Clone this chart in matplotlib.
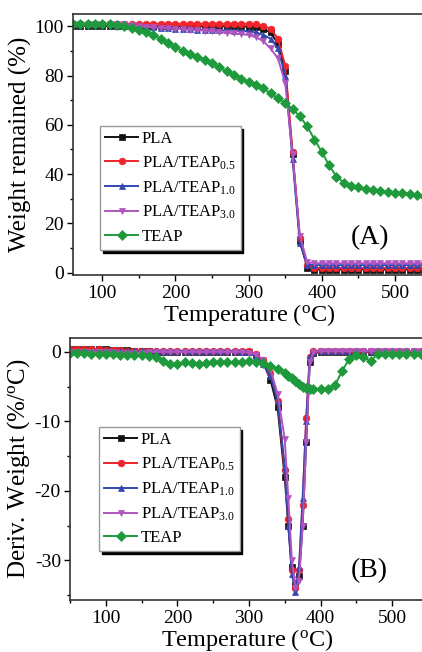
import matplotlib
matplotlib.use("Agg")
import matplotlib.pyplot as plt
from matplotlib.ticker import MultipleLocator

plt.rcParams['font.family'] = ['Liberation Serif', 'DejaVu Serif']
plt.rcParams['mathtext.fontset'] = 'custom'
plt.rcParams['mathtext.rm'] = 'Liberation Serif'
plt.rcParams['mathtext.it'] = 'Liberation Serif:italic'
plt.rcParams['axes.unicode_minus'] = False

# ---- (A) TGA: weight remained (%) ----
temp_a = [60, 70, 80, 90, 100, 110, 120, 130, 140, 150, 160, 170, 180, 190, 200,
          210, 220, 230, 240, 250, 260, 270, 280, 290, 300, 310, 320, 330, 340, 350,
          360, 370, 380, 390, 400, 410, 420, 430, 440, 450, 460, 470, 480, 490, 500,
          510, 520, 530, 540]

pla_a = [100.2, 100.2, 100.2, 100.2, 100.2, 100.0, 100.0, 100.0, 100.0, 100.0,
         100.0, 100.0, 100.0, 100.0, 100.0, 100.0, 100.0, 100.0, 100.0, 100.0,
         100.0, 100.0, 100.0, 100.0, 99.9, 99.6, 99.0, 97.5, 93.0, 82.0,
         48.0, 13.0, 2.0, 1.2, 1.2, 1.2, 1.2, 1.2, 1.2, 1.2,
         1.2, 1.2, 1.2, 1.2, 1.2, 1.2, 1.2, 1.2, 1.2]
teap05_a = [101.0, 101.0, 101.0, 101.0, 101.0, 101.0, 101.0, 101.0, 101.0, 101.0,
            101.0, 101.0, 101.0, 101.0, 101.0, 101.0, 101.0, 101.0, 101.0, 101.0,
            101.0, 101.0, 101.0, 101.0, 101.0, 100.8, 100.2, 99.0, 95.0, 84.0,
            49.0, 14.0, 3.0, 1.8, 1.8, 1.8, 1.8, 1.8, 1.8, 1.8,
            1.8, 1.8, 1.8, 1.8, 1.8, 1.8, 1.8, 1.8, 1.8]
teap10_a = [101.0, 101.0, 101.0, 101.0, 101.0, 100.8, 100.6, 100.4, 100.2, 100.0,
            99.8, 99.6, 99.4, 99.2, 99.0, 98.9, 98.8, 98.7, 98.6, 98.5,
            98.4, 98.3, 98.2, 98.1, 98.0, 97.5, 96.5, 95.0, 91.0, 80.0,
            46.0, 12.0, 3.2, 3.0, 3.0, 3.0, 3.0, 3.0, 3.0, 3.0,
            3.0, 3.0, 3.0, 3.0, 3.0, 3.0, 3.0, 3.0, 3.0]
teap30_a = [101.0, 101.0, 101.0, 101.0, 101.0, 101.0, 101.0, 100.8, 100.4, 100.0,
            99.8, 99.6, 99.4, 99.2, 99.0, 98.8, 98.6, 98.4, 98.2, 98.0,
            97.7, 97.4, 97.1, 96.8, 96.5, 95.5, 94.0, 91.0, 87.0, 77.0,
            48.0, 15.0, 4.2, 3.8, 3.8, 3.8, 3.8, 3.8, 3.8, 3.8,
            3.8, 3.8, 3.8, 3.8, 3.8, 3.8, 3.8, 3.8, 3.8]
teap_a = [100.8, 101.0, 101.0, 101.0, 101.0, 100.8, 100.5, 100.0, 99.3, 98.5,
          97.5, 96.5, 95.0, 93.3, 91.5, 90.0, 88.8, 87.6, 86.4, 85.0,
          83.4, 81.8, 80.2, 78.8, 77.4, 76.2, 74.8, 72.8, 70.8, 68.8,
          66.4, 63.4, 59.4, 54.0, 49.0, 43.5, 39.0, 36.5, 35.3, 34.6,
          34.0, 33.4, 33.0, 32.7, 32.5, 32.3, 32.0, 31.6, 31.2]

# ---- (B) DTG: deriv. weight (%/oC) ----
temp_b = [50, 60, 70, 80, 90, 100, 110, 120, 130, 140, 150, 160, 170, 180, 190,
          200, 210, 220, 230, 240, 250, 260, 270, 280, 290, 300, 310, 320, 330, 340,
          350, 355, 360, 365, 370, 375, 380, 385, 390, 400, 410, 420, 430, 440, 450,
          460, 470, 480, 490, 500, 510, 520, 530, 540]

pla_b = [0.4, 0.4, 0.4, 0.4, 0.4, 0.4, 0.3, 0.3, 0.3, 0.2, 0.2, 0.1, 0.0, 0.0, 0.0,
         0.0, 0.0, 0.0, 0.0, 0.0, 0.0, 0.0, 0.0, 0.0, 0.0, 0.0, -0.5, -1.5, -4.0, -8.0,
         -18.0, -25.0, -31.0, -33.5, -32.3, -25.0, -13.0, -1.5, -0.2, 0.0, 0.0, 0.0, 0.0, 0.0, 0.0,
         0.0, 0.0, 0.0, 0.0, 0.0, 0.0, 0.0, 0.0, 0.0]
teap05_b = [0.4, 0.4, 0.4, 0.4, 0.4, 0.3, 0.3, 0.3, 0.2, 0.2, 0.2, 0.1, 0.1, 0.1, 0.1,
            0.1, 0.1, 0.1, 0.1, 0.1, 0.1, 0.1, 0.1, 0.1, 0.1, 0.1, -0.3, -1.2, -3.0, -7.0,
            -17.0, -24.0, -31.4, -34.0, -31.4, -22.0, -9.5, -0.8, 0.1, 0.1, 0.1, 0.1, 0.1, 0.1, 0.1,
            0.1, 0.1, 0.1, 0.1, 0.1, 0.1, 0.1, 0.1, 0.1]
teap10_b = [0.1, 0.1, 0.1, 0.1, 0.1, 0.1, 0.1, 0.1, 0.1, 0.1, 0.1, 0.1, 0.1, 0.1, 0.1,
            0.1, 0.1, 0.1, 0.1, 0.1, 0.1, 0.1, 0.1, 0.1, 0.0, 0.0, -0.6, -1.8, -3.5, -7.0,
            -16.5, -25.0, -32.0, -34.6, -31.0, -21.0, -10.0, -0.6, 0.0, 0.1, 0.1, 0.1, 0.1, 0.1, 0.1,
            0.1, 0.1, 0.1, 0.1, 0.1, 0.1, 0.1, 0.1, 0.1]
teap30_b = [0.0, 0.0, 0.0, 0.0, 0.0, 0.0, 0.0, -0.1, -0.1, -0.1, -0.1, 0.0, 0.0, 0.0, 0.0,
            0.0, 0.0, 0.0, 0.0, 0.0, 0.0, 0.0, 0.0, 0.0, 0.0, -0.1, -0.4, -1.2, -2.5, -6.0,
            -12.5, -21.0, -30.0, -34.0, -33.0, -25.0, -13.0, -1.5, 0.0, 0.1, 0.1, 0.1, 0.1, 0.1, 0.1,
            0.1, 0.1, 0.1, 0.1, 0.1, 0.1, 0.1, 0.1, 0.1]
teap_b = [-0.2, -0.2, -0.2, -0.3, -0.3, -0.3, -0.3, -0.4, -0.4, -0.4, -0.5, -0.6, -0.8, -1.3, -1.8,
          -1.7, -1.5, -1.6, -1.7, -1.6, -1.5, -1.5, -1.5, -1.4, -1.4, -1.3, -1.4, -1.6, -2.0, -2.4,
          -3.0, -3.4, -3.8, -4.2, -4.6, -5.0, -5.2, -5.3, -5.3, -5.3, -5.3, -4.8, -2.8, -1.0, -0.5,
          -0.8, -1.3, -0.3, -0.3, -0.3, -0.3, -0.3, -0.3, -0.3]

labels = ['PLA', 'PLA/TEAP$_{\\mathregular{0.5}}$', 'PLA/TEAP$_{\\mathregular{1.0}}$',
          'PLA/TEAP$_{\\mathregular{3.0}}$', 'TEAP']
colors = ['#111111', '#f0242a', '#3346b0', '#b055c0', '#1e9a3c']
markers = ['s', 'o', '^', 'v', 'D']


def style_axes(ax):
    ax.tick_params(axis='both', which='both', direction='out', labelsize=14,
                   top=False, right=False, width=1.0)
    ax.tick_params(which='major', length=4.5)
    ax.tick_params(which='minor', length=2.5)
    ax.tick_params(axis='x', pad=3)
    ax.tick_params(axis='y', pad=2)
    ax.xaxis.set_major_locator(MultipleLocator(100))
    ax.xaxis.set_minor_locator(MultipleLocator(50))
    for sp in ax.spines.values():
        sp.set_linewidth(1.2)
        sp.set_color('#333333')
    ax.set_xlabel('Temperature ($^{\\mathregular{o}}$C)', fontsize=17.5, labelpad=0)


def draw(ax, temp, series, loc_box):
    for vals, lab, c, m in zip(series, labels, colors, markers):
        ax.plot(temp, vals, color=c, marker=m, markersize=4.8, linewidth=1.4,
                label=lab, markeredgewidth=0.5)
    leg = ax.legend(loc='lower left', bbox_to_anchor=loc_box, fontsize=12,
                    frameon=True, fancybox=False, shadow={'color': 'black', 'alpha': 1.0},
                    edgecolor='#999999', handlelength=2.0, handletextpad=0.2,
                    labelspacing=0.45, borderpad=0.3, borderaxespad=0)
    leg.get_frame().set_linewidth(1.0)


fig = plt.figure(figsize=(4.22, 6.52), dpi=100)

ax1 = fig.add_axes([73 / 422, 1 - 275 / 652, 352 / 422, 261 / 652])
draw(ax1, temp_a, [pla_a, teap05_a, teap10_a, teap30_a, teap_a], (0.077, 0.096))
ax1.set_xlim(60, 541)
ax1.set_ylim(-1, 105)
style_axes(ax1)
ax1.yaxis.set_major_locator(MultipleLocator(20))
ax1.yaxis.set_minor_locator(MultipleLocator(10))
ax1.set_ylabel('Weight remained (%)', fontsize=18, labelpad=2)
ax1.text(0.845, 0.142, '(A)', transform=ax1.transAxes, fontsize=20,
         ha='center', va='center')

ax2 = fig.add_axes([70 / 422, 1 - 600 / 652, 355 / 422, 262 / 652])
draw(ax2, temp_b, [pla_b, teap05_b, teap10_b, teap30_b, teap_b], (0.082, 0.186))
ax2.set_xlim(50, 546)
ax2.set_ylim(-35.7, 2)
style_axes(ax2)
ax2.yaxis.set_major_locator(MultipleLocator(10))
ax2.yaxis.set_minor_locator(MultipleLocator(5))
ax2.set_ylabel('Deriv. Weight (%/$^{\\mathregular{o}}$C)', fontsize=18, labelpad=2)
ax2.text(0.844, 0.114, '(B)', transform=ax2.transAxes, fontsize=20,
         ha='center', va='center')

fig.savefig('out.png', dpi=100)
